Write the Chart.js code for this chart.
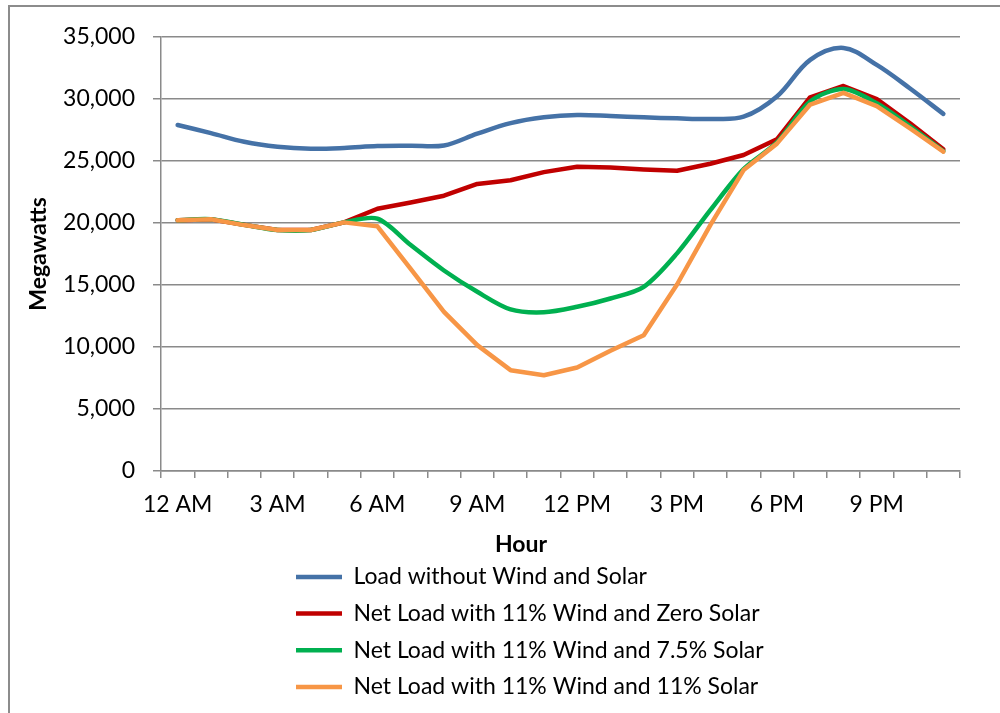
<!DOCTYPE html>
<html>
<head>
<meta charset="utf-8">
<script src="https://cdn.jsdelivr.net/npm/chart.js@4.4.1/dist/chart.umd.min.js"></script>
<style>
  html, body { margin: 0; padding: 0; background: #fff; overflow: hidden; }
  #wrap { position: relative; width: 1000px; height: 713px; }
  #chart { position: absolute; left: 0; top: 0; }
  #frame {
    position: absolute; left: 8px; top: 5px; width: 1100px; height: 800px;
    border-left: 2px solid #8c8c8c; border-top: 2px solid #8c8c8c;
    pointer-events: none;
  }
</style>
</head>
<body>
<div id="wrap">
  <canvas id="chart" width="1000" height="713"></canvas>
  <div id="frame"></div>
</div>
<script>
// Hourly categories (one per hour of the day)
const hours = ['12 AM', '1 AM', '2 AM', '3 AM', '4 AM', '5 AM', '6 AM', '7 AM', '8 AM', '9 AM', '10 AM', '11 AM',
               '12 PM', '1 PM', '2 PM', '3 PM', '4 PM', '5 PM', '6 PM', '7 PM', '8 PM', '9 PM', '10 PM', '11 PM'];

// Hour labels shown along the axis
const hourTicks = ['12 AM', '3 AM', '6 AM', '9 AM', '12 PM', '3 PM', '6 PM', '9 PM'];

// Megawatts per hour
const loadNoWindSolar = [27900, 27250, 26550, 26150, 25990, 26050, 26200, 26230, 26250, 27200, 28050, 28520,
                         28710, 28630, 28520, 28440, 28390, 28570, 30200, 33150, 34120, 32750, 30850, 28800];
const netWindZeroSolar = [20230, 20300, 19850, 19430, 19430, 20050, 21150, 21650, 22200, 23150, 23450, 24100,
                          24540, 24480, 24320, 24210, 24780, 25480, 26750, 30140, 31050, 30000, 28040, 25950];
const netWind75Solar = [20230, 20300, 19850, 19430, 19430, 20050, 20350, 18220, 16170, 14450, 13030, 12800,
                        13240, 13910, 14850, 17550, 21040, 24350, 26500, 29800, 30800, 29650, 27800, 25800];
const netWind11Solar = [20230, 20300, 19830, 19430, 19430, 20050, 19730, 16300, 12830, 10150, 8130, 7720,
                        8340, 9700, 10950, 15040, 19830, 24270, 26400, 29550, 30500, 29430, 27630, 25750];

// Value axis range
const yMin = 0, yMax = 35000, yStep = 5000;

const FONT = 'Lato';
const GRID = '#8a8a8a';
const LEGEND_PAD = 13.67;
const LEGEND_LEFT = 296 - LEGEND_PAD;

// Places the vertical legend list and the "Hour" caption under the plot
const bottomPlacement = {
  id: 'bottomPlacement',
  afterLayout(chart) {
    const lg = chart.legend;
    if (lg) {
      const w = lg.right - lg.left;
      lg.left = LEGEND_LEFT;
      lg.right = LEGEND_LEFT + w;
    }
    const tb = chart.titleBlock;
    if (tb) {
      tb.left = 42;
      tb.right = 1000;
    }
  }
};

function series(label, data, color, tension, order) {
  return {
    label, data,
    borderColor: color, backgroundColor: color,
    borderWidth: 4.5, tension, order,
    pointRadius: 0, pointHoverRadius: 0,
    borderCapStyle: 'round', borderJoinStyle: 'round',
    fill: false
  };
}

new Chart(document.getElementById('chart'), {
  type: 'line',
  data: {
    labels: hours,
    datasets: [
      series('Load without Wind and Solar', loadNoWindSolar, '#4572A7', 0.35, 4),
      series('Net Load with 11% Wind and Zero Solar', netWindZeroSolar, '#C00000', 0, 3),
      series('Net Load with 11% Wind and 7.5% Solar', netWind75Solar, '#00B050', 0.3, 2),
      series('Net Load with 11% Wind and 11% Solar', netWind11Solar, '#F79646', 0, 1)
    ]
  },
  options: {
    responsive: false,
    animation: false,
    events: [],
    layout: { padding: { left: 10, top: 37, right: 40, bottom: 4.6 } },
    plugins: {
      tooltip: { enabled: false },
      legend: {
        position: 'bottom',
        align: 'start',
        fullSize: false,
        weight: 1000,
        labels: {
          usePointStyle: true,
          pointStyle: 'line',
          pointStyleWidth: 46,
          padding: LEGEND_PAD,
          color: '#000',
          font: { family: FONT, size: 23 },
          sort: (a, b) => a.datasetIndex - b.datasetIndex
        }
      },
      title: {
        display: true,
        text: 'Hour',
        position: 'bottom',
        weight: 500,
        color: '#000',
        font: { family: FONT, size: 23, weight: 'bold', lineHeight: 0.5 },
        padding: { top: 0, bottom: 1 }
      }
    },
    scales: {
      x: {
        type: 'category',
        offset: true,
        grid: { offset: true, drawOnChartArea: false, drawTicks: true, tickLength: 7, color: GRID, lineWidth: 1.5 },
        border: { color: GRID, width: 1.5 },
        ticks: {
          autoSkip: false, maxRotation: 0, minRotation: 0, padding: 13,
          color: '#000', font: { family: FONT, size: 23 },
          callback: (v, i) => hourTicks.includes(hours[i]) ? hours[i] : ''
        },
        afterFit: (s) => { s.height = 68.25; }
      },
      y: {
        min: yMin, max: yMax,
        grid: { color: GRID, lineWidth: 1.5, tickLength: 8 },
        border: { color: GRID, width: 1.5 },
        ticks: {
          stepSize: yStep, padding: 18,
          color: '#000', font: { family: FONT, size: 23 },
          callback: (v) => v.toLocaleString('en-US')
        },
        title: {
          display: true, text: 'Megawatts', color: '#000',
          font: { family: FONT, size: 23, weight: 'bold' },
          padding: { top: 14.7, bottom: 4 }
        },
        afterFit: (s) => { s.width = 151; }
      }
    }
  },
  plugins: [bottomPlacement]
});
</script>
</body>
</html>
